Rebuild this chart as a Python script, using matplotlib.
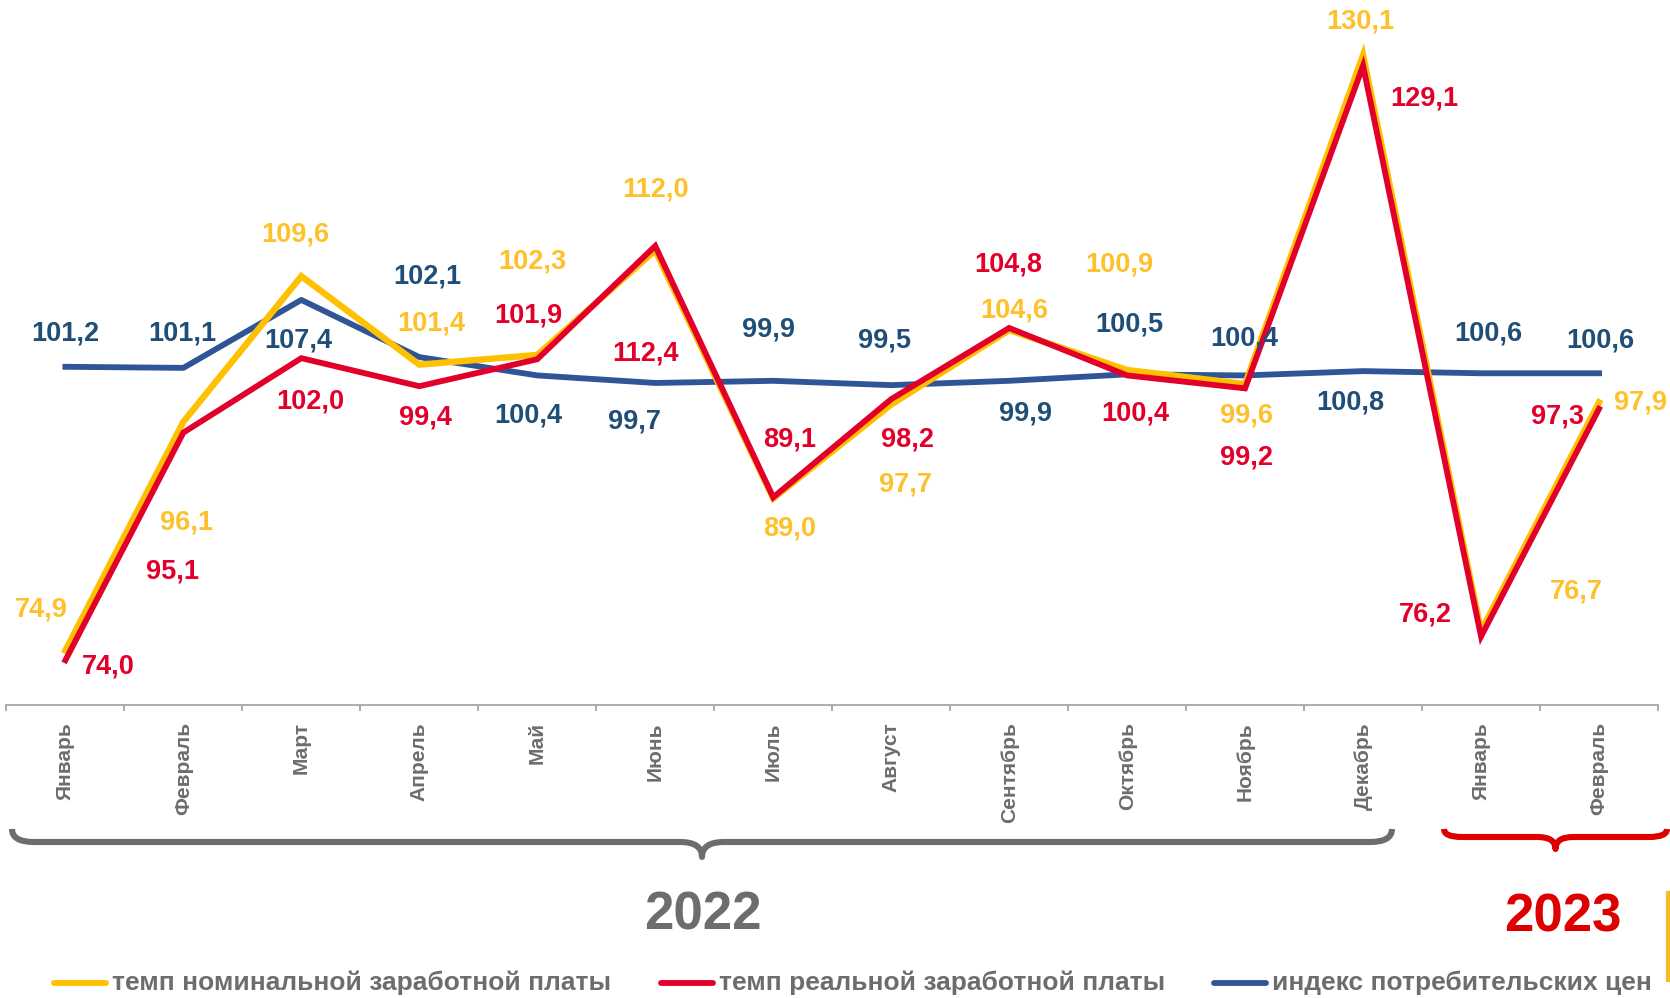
import matplotlib
matplotlib.use("Agg")
import matplotlib.pyplot as plt
from matplotlib.path import Path
from matplotlib.patches import PathPatch
from matplotlib.lines import Line2D

MONTHS = ["Январь", "Февраль", "Март", "Апрель", "Май", "Июнь", "Июль",
          "Август", "Сентябрь", "Октябрь", "Ноябрь", "Декабрь", "Январь", "Февраль"]

NOMINAL = [74.9, 96.1, 109.6, 101.4, 102.3, 112.0, 89.0, 97.7, 104.6, 100.9, 99.6, 130.1, 76.7, 97.9]
REAL = [74.0, 95.1, 102.0, 99.4, 101.9, 112.4, 89.1, 98.2, 104.8, 100.4, 99.2, 129.1, 76.2, 97.3]
CPI = [101.2, 101.1, 107.4, 102.1, 100.4, 99.7, 99.9, 99.5, 99.9, 100.5, 100.4, 100.8, 100.6, 100.6]

SERIES_NAMES = ["темп номинальной заработной платы",
                "темп реальной заработной платы",
                "индекс потребительских цен"]
YEARS = ["2022", "2023"]

# label placement: offset from the point, (category units, value units)
NOMINAL_OFF = [(-0.2, 3.8), (0.03, -9.3), (-0.05, 3.9), (0.1, 3.8), (-0.04, 8.7), (0.0, 5.6),
               (0.14, -2.8), (0.12, -7.4), (0.04, 1.8), (-0.07, 9.8), (0.01, -2.9),
               (-0.02, 3.1), (0.81, 3.7), (0.35, 0.0)]
REAL_OFF = [(0.36, -0.6), (-0.09, -12.9), (0.08, -4.0), (0.05, -2.9), (-0.08, 4.1), (-0.08, -10.0),
            (0.14, 5.4), (0.14, -3.7), (-0.01, 5.9), (0.07, -3.5), (0.01, -6.4),
            (0.52, -3.0), (-0.47, 2.0), (-0.35, -0.75)]
CPI_OFF = [(0.0, 3.1), (-0.01, 3.2), (-0.03, -3.8), (0.07, 7.5), (-0.08, -3.7), (-0.18, -3.6),
           (-0.04, 4.8), (-0.06, 4.1), (0.14, -3.0), (0.02, 4.6), (-0.01, 3.4),
           (-0.11, -2.9), (0.06, 3.7), (0.01, 3.0)]

YELLOW = "#FFC000"
YELLOW_TXT = "#FFC12B"
RED = "#E2002A"
BLUE = "#2F5597"
BLUE_TXT = "#1F4E79"
GRAY = "#6D6D6D"
AXIS_GRAY = "#A6A6A6"
YEAR_RED = "#DC0000"

VALUE_FONT = ["Liberation Sans", "DejaVu Sans"]

W, H = 1670, 998
fig = plt.figure(figsize=(W / 100, H / 100), dpi=100)
fig.patch.set_facecolor("white")

ax = fig.add_axes([6.4 / W, 1 - 705 / H, 1651.6 / W, 705 / H])
ax.set_facecolor("none")
x = list(range(len(MONTHS)))

ax.plot(x, NOMINAL, color=YELLOW, lw=4.6, solid_joinstyle="miter", zorder=3)
ax.plot(x, REAL, color=RED, lw=4.2, solid_joinstyle="miter", zorder=4)
ax.plot(x, CPI, color=BLUE, lw=4.2, solid_joinstyle="round", zorder=2)


def fmt(v):
    return f"{v:.1f}".replace(".", ",")


for vals, offs, col in [(NOMINAL, NOMINAL_OFF, YELLOW_TXT),
                        (REAL, REAL_OFF, RED),
                        (CPI, CPI_OFF, BLUE_TXT)]:
    for i, (v, (dx, dy)) in enumerate(zip(vals, offs)):
        ax.text(i + dx, v + dy, fmt(v), ha="center", va="center", color=col,
                fontsize=19.5, fontweight="bold", family=VALUE_FONT, zorder=5)

ax.set_xlim(-0.5, len(MONTHS) - 0.5)
ax.set_ylim(69.85, 135.2)
for s in ("top", "right", "left"):
    ax.spines[s].set_visible(False)
ax.spines["bottom"].set_color(AXIS_GRAY)
ax.spines["bottom"].set_linewidth(1.3)
ax.set_yticks([])
ax.set_xticks(x)
ax.set_xticklabels(MONTHS, rotation=90, fontsize=15, fontweight="bold",
                   color=GRAY, family=VALUE_FONT, va="top", ha="center")
ax.tick_params(axis="x", which="major", length=0, pad=12.5)
ax.set_xticks([i - 0.5 for i in range(len(MONTHS) + 1)], minor=True)
ax.tick_params(axis="x", which="minor", length=4.5, width=1.3, color=AXIS_GRAY)

# overlay in pixel coordinates for braces, years and legend
ov = fig.add_axes([0, 0, 1, 1], zorder=-1)
ov.set_xlim(0, W)
ov.set_ylim(H, 0)
ov.axis("off")


def brace(x0, x1, y_top, y_line, y_tip, r, color, lw):
    xc = (x0 + x1) / 2
    verts = [(x0, y_top), (x0, y_line), (x0 + r, y_line),
             (xc - r, y_line), (xc, y_line), (xc, y_tip),
             (xc, y_line), (xc + r, y_line),
             (x1 - r, y_line), (x1, y_line), (x1, y_top)]
    codes = [Path.MOVETO, Path.CURVE3, Path.CURVE3,
             Path.LINETO, Path.CURVE3, Path.CURVE3,
             Path.CURVE3, Path.CURVE3,
             Path.LINETO, Path.CURVE3, Path.CURVE3]
    ov.add_patch(PathPatch(Path(verts, codes), fill=False, edgecolor=color,
                           lw=lw, capstyle="butt", joinstyle="round"))


brace(12, 1392, 829, 842, 857, 22, GRAY, 4.4)
brace(1444, 1667, 829, 837, 849, 18, YEAR_RED, 4.4)

ov.text(703, 915, YEARS[0], ha="center", va="center", fontsize=38,
        fontweight="bold", color=GRAY, family=VALUE_FONT)
ov.text(1563, 917, YEARS[1], ha="center", va="center", fontsize=38,
        fontweight="bold", color=YEAR_RED, family=VALUE_FONT)

ov.add_line(Line2D([1668, 1668], [893, 980], color="#F9BB2A", lw=3))

legend_items = [(54, 112, YELLOW), (661, 719, RED), (1214, 1272, BLUE)]
for name, (lx, tx, col) in zip(SERIES_NAMES, legend_items):
    ov.add_line(Line2D([lx, lx + 52], [983, 983], color=col, lw=4.2,
                       solid_capstyle="round"))
    ov.text(tx, 983, name, ha="left", va="center", fontsize=19,
            fontweight="bold", color=GRAY, family=VALUE_FONT)

fig.savefig("out.png", dpi=100, facecolor="white")
